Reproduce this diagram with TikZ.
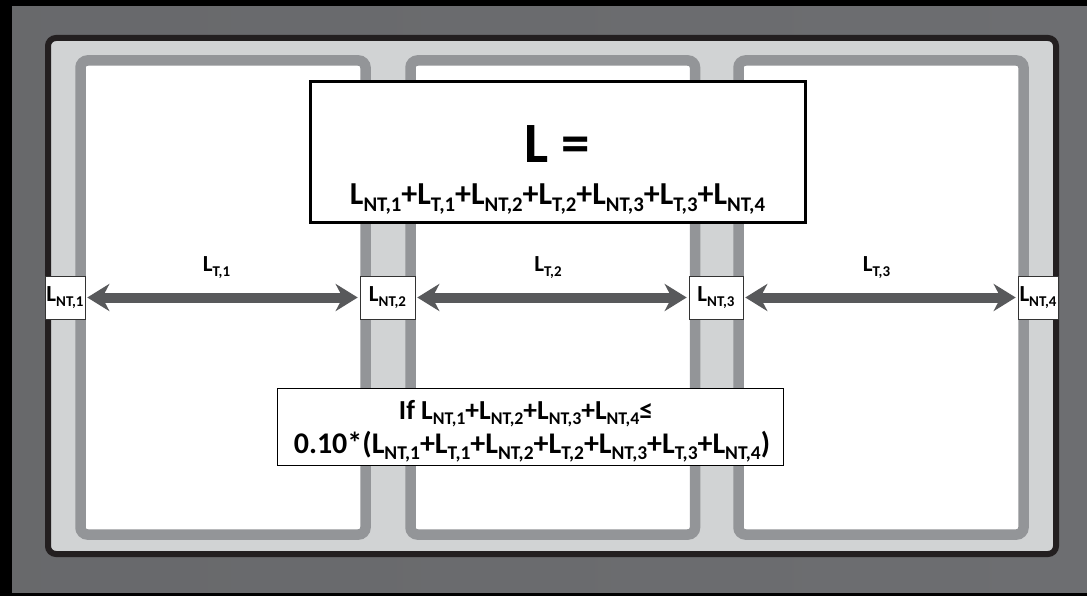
\documentclass[tikz,border=0pt]{standalone}
\usepackage{fontspec}
\setmainfont{Carlito}
\usepackage{graphicx}
\usetikzlibrary{arrows.meta,positioning}
\definecolor{outergray}{HTML}{6D6E71}
\definecolor{framecol}{HTML}{231F20}
\definecolor{aislegray}{HTML}{D1D3D4}
\definecolor{panelgray}{HTML}{939598}
\definecolor{arrowgray}{HTML}{58595B}
% L with a lowered, smaller subscript
\newcommand{\Lsub}[1]{L\raisebox{-.2em}{\scalebox{.65}{#1}}}
\tikzset{panel/.style={draw=panelgray,line width=10.5pt,fill=white,rounded corners=7pt},
         ntbox/.style={rectangle,draw=black!80,line width=.6pt,fill=white,minimum height=43pt,inner sep=0pt,font=\fontsize{23}{26}\selectfont\bfseries},
         span/.style={draw=arrowgray,line width=10pt,{Stealth[length=22pt,width=27pt,inset=7pt]}-{Stealth[length=22pt,width=27pt,inset=7pt]},shorten <=2pt,shorten >=2pt},
         span label/.style={rectangle,inner sep=0pt,font=\fontsize{23}{25}\selectfont\bfseries},
         eq box/.style={rectangle,draw=black,fill=white,inner sep=0pt},
         eq text/.style={anchor=base,inner sep=0pt,font=\fontsize{30}{32}\selectfont\bfseries},
}
\begin{document}
\begin{tikzpicture}[x=1pt,y=-1pt]
\useasboundingbox (0,0) rectangle (1087,596);
% background
\fill[black] (0,0) rectangle (1087,596);
\fill[left color=outergray!95!black,right color=outergray] (12,7) rectangle (1087,592);
% building outline and rooms
\draw[framecol,fill=aislegray,line width=6pt,rounded corners=8pt] (48,38) rectangle (1056,554);
\foreach \xa/\xb in {80.5/365.5, 410.5/695, 738.5/1023.5}
    \draw[panel] (\xa,60.5) rectangle (\xb,534.5);

% non-transparent segments
\node[ntbox,minimum width=40pt] (nt1) at (65,297.5) {\Lsub{NT,1}};
\node[ntbox,minimum width=55pt] (nt2) at (387.5,297.5) {\Lsub{NT,2}};
\node[ntbox,minimum width=54pt] (nt3) at (716,297.5) {\Lsub{NT,3}};
\node[ntbox,minimum width=40pt] (nt4) at (1038,297.5) {\Lsub{NT,4}};

% transparent spans
\draw[span] (nt1) -- node[span label,above=14pt,xshift=-6pt] (lt1) {\Lsub{T,1}} (nt2);
\draw[span] (nt2) -- node[span label,above=14pt,xshift=-4pt] (lt2) {\Lsub{T,2}} (nt3);
\draw[span] (nt3) -- node[span label,above=14pt,xshift=-4pt] (lt3) {\Lsub{T,3}} (nt4);

% total length
\node[eq box,line width=3pt,minimum width=495pt,minimum height=141pt] (total) at (557.5,152.5) {};
\node[eq text,font=\fontsize{57}{60}\selectfont\bfseries] (totalhead) at (557.5,163) {L =};
\node[eq text,font=\fontsize{32}{35}\selectfont\bfseries] (totalsum) at (557.5,205) {\Lsub{NT,1}+\Lsub{T,1}+\Lsub{NT,2}+\Lsub{T,2}+\Lsub{NT,3}+\Lsub{T,3}+\Lsub{NT,4}};

% condition
\node[eq box,line width=1pt,minimum width=506pt,minimum height=77pt] (cond) at (530,426.5) {};
\node[eq text,font=\fontsize{27.5}{30}\selectfont\bfseries] (condif) at (526,419) {If \Lsub{NT,1}+\Lsub{NT,2}+\Lsub{NT,3}+\Lsub{NT,4}≤};
\node[eq text] (condrhs) at (532,453) {0.10*(\Lsub{NT,1}+\Lsub{T,1}+\Lsub{NT,2}+\Lsub{T,2}+\Lsub{NT,3}+\Lsub{T,3}+\Lsub{NT,4})};
\end{tikzpicture}
\end{document}
